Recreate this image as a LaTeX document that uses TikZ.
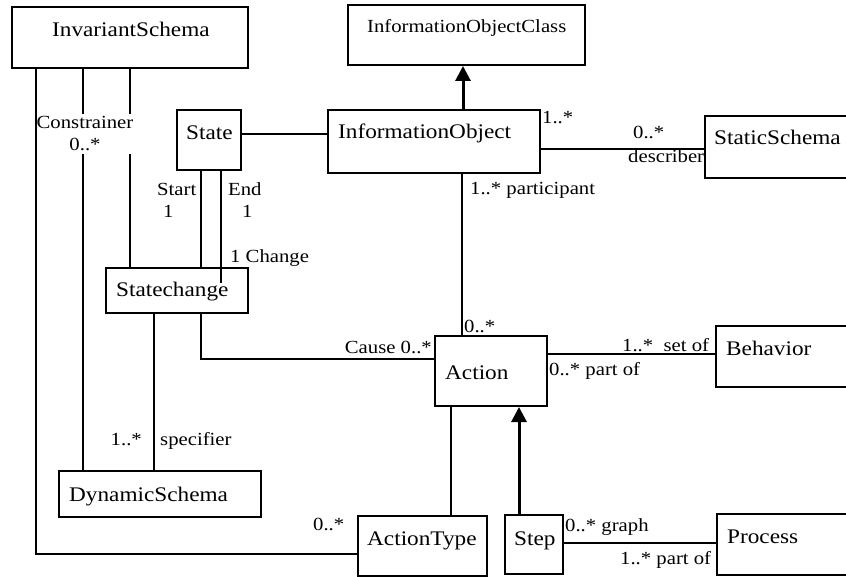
\documentclass[tikz,border=0pt]{standalone}
\usepackage{fontspec}
\setmainfont{Liberation Serif}[FakeStretch=1.12]
\usetikzlibrary{arrows.meta}
\begin{document}
\begin{tikzpicture}[x=1pt,y=-1pt,
  box/.style={draw, line width=2pt, inner sep=0pt},
  btext/.style={inner sep=0pt, anchor=base west, font=\fontsize{20.75}{24}\selectfont},
  ltext/.style={inner sep=0pt, anchor=base west, font=\fontsize{18.5}{22}\selectfont},
  conn/.style={line width=2pt},
  gen/.style={line width=3pt, -{Triangle[width=15pt,length=15pt]}},
]
\clip (0,0) rectangle (846,577);
% boxes
\node[box, minimum width=236pt, minimum height=61pt] (inv) at (130,37.5) {};
\node[box, minimum width=237pt, minimum height=60pt] (ioc) at (466.5,35) {};
\node[box, minimum width=212pt, minimum height=63pt] (io) at (434,141.5) {};
\node[box, minimum width=64pt, minimum height=60pt] (state) at (209,140) {};
\node[box, minimum width=175pt, minimum height=62pt] (static) at (792.5,147) {};
\node[box, minimum width=142pt, minimum height=45pt] (sc) at (177,290.5) {};
\node[box, minimum width=112pt, minimum height=70pt] (action) at (491,371) {};
\node[box, minimum width=164pt, minimum height=61pt] (behavior) at (798,356.5) {};
\node[box, minimum width=202pt, minimum height=46pt] (dyn) at (160,494) {};
\node[box, minimum width=129pt, minimum height=60pt] (at) at (422.5,546) {};
\node[box, minimum width=58pt, minimum height=59pt] (step) at (534,544.5) {};
\node[box, minimum width=163pt, minimum height=61pt] (process) at (798.5,544.5) {};
% box texts
\node[btext] (inv-t) at (52,37) {InvariantSchema};
\node[ltext] (ioc-t) at (367,33) {InformationObjectClass};
\node[btext] (io-t) at (338,139) {InformationObject};
\node[btext] (state-t) at (186,140) {State};
\node[btext] (static-t) at (714,145) {StaticSchema};
\node[btext] (sc-t) at (116,297) {Statechange};
\node[btext] (action-t) at (445,379) {Action};
\node[btext] (behavior-t) at (726,355) {Behavior};
\node[btext] (dyn-t) at (69,501) {DynamicSchema};
\node[btext] (at-t) at (367,545) {ActionType};
\node[btext] (step-t) at (514,545) {Step};
\node[btext] (process-t) at (727,543) {Process};
% x / y helper coordinates
\coordinate (x36) at (36,0);
\coordinate (x83) at (83,0);
\coordinate (x130) at (130,0);
\coordinate (x154) at (154,0);
\coordinate (x201) at (201,0);
\coordinate (x221) at (221,0);
\coordinate (x451) at (451,0);
\coordinate (x462) at (462,0);
\coordinate (x463) at (463,0);
\coordinate (x519) at (519,0);
\coordinate (y134) at (0,134);
\coordinate (y149) at (0,149);
\coordinate (y354) at (0,354);
\coordinate (y359) at (0,359);
\coordinate (y543) at (0,543);
\coordinate (y554) at (0,554);
\coordinate (endpt) at (221,283);
% connectors from InvariantSchema
\draw[conn] (x83 |- inv.south) -- (x83 |- dyn.north);
\draw[conn] (x130 |- inv.south) -- (x130 |- sc.north);
\node[ltext, anchor=center, align=center, fill=white, inner xsep=0pt, inner ysep=3pt] (constr) at (85,134) {Constrainer\\0..*};
\draw[conn] (x36 |- inv.south) -- (x36 |- y554) -- (at.west |- y554);
% State
\draw[conn] (x201 |- state.south) -- (x201 |- sc.north);
\draw[conn] (x221 |- state.south) -- (endpt);
\draw[conn] (state.east |- y134) -- (io.west |- y134);
% InformationObject
\draw[gen] (x463 |- io.north) -- (x463 |- ioc.south);
\draw[conn] (io.east |- y149) -- (static.west |- y149);
\draw[conn] (x462 |- io.south) -- (x462 |- action.north);
% Statechange
\draw[conn] (x201 |- sc.south) -- (x201 |- y359) -- (action.west |- y359);
\draw[conn] (x154 |- sc.south) -- (x154 |- dyn.north);
% Action
\draw[conn] (action.east |- y354) -- (behavior.west |- y354);
\draw[conn] (x451 |- action.south) -- (x451 |- at.north);
\draw[gen] (x519 |- step.north) -- (x519 |- action.south);
\draw[conn] (step.east |- y543) -- (process.west |- y543);
% labels
\node[ltext] (l-start) at (157,196) {Start};
\node[ltext] (l-start1) at (163,218) {1};
\node[ltext] (l-end) at (228,196) {End};
\node[ltext] (l-end1) at (242,218) {1};
\node[ltext] (l-change) at (230,263) {1 Change};
\node[ltext] (l-io1) at (542,124) {1..*};
\node[ltext] (l-st0) at (633,139) {0..*};
\node[ltext] (l-descr) at (628,163) {describer};
\node[ltext] (l-part) at (470,195) {1..* participant};
\node[ltext] (l-act0) at (464,332) {0..*};
\node[ltext, anchor=base east] (l-cause) at (432,353) {Cause 0..*};
\node[ltext] (l-setof) at (622,351) {1..*~ set of};
\node[ltext] (l-partof) at (549,375) {0..* part of};
\node[ltext, anchor=base east] (l-spec1) at (142,445) {1..*};
\node[ltext] (l-spec) at (160,445) {specifier};
\node[ltext] (l-at0) at (313,530) {0..*};
\node[ltext] (l-graph) at (565,531) {0..* graph};
\node[ltext] (l-ppartof) at (620,564) {1..* part of};
\end{tikzpicture}
\end{document}
